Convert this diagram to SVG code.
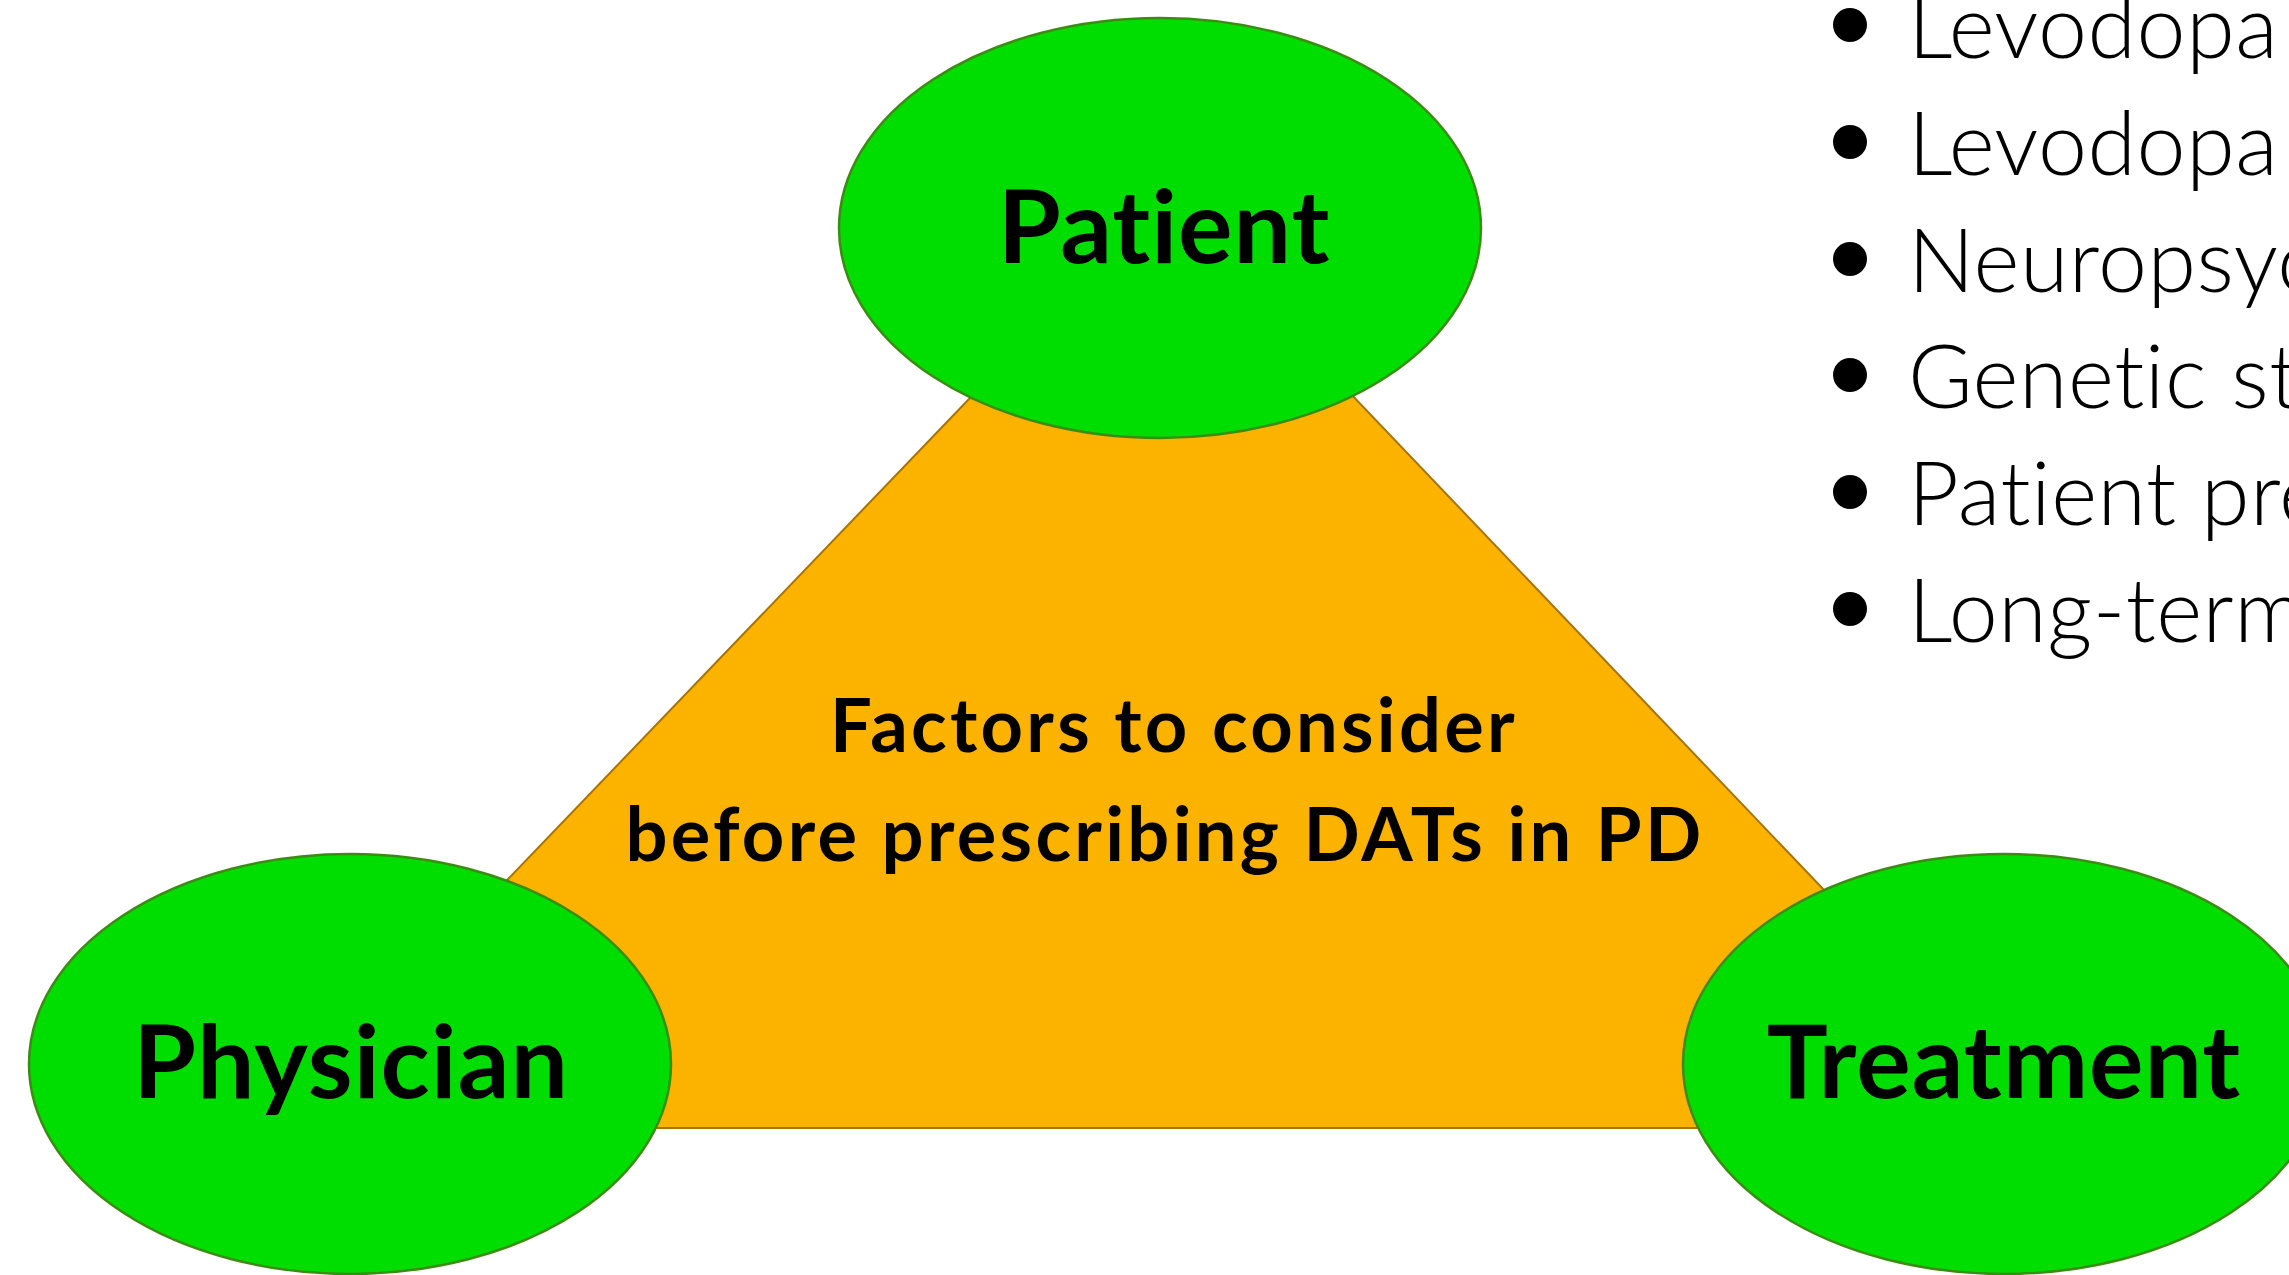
<svg xmlns="http://www.w3.org/2000/svg" width="2289" height="1275" viewBox="0 0 2289 1275">
  <style>
    .bubble { fill: #00DD00; stroke: #3C8C14; stroke-width: 2.5; }
    .core { fill: #FBB300; stroke: #A87400; stroke-width: 2; }
    .label { font-family: Lato, "Noto Sans", "Liberation Sans", sans-serif; font-weight: 700; fill: #000; text-anchor: middle; font-variant-ligatures: none; font-feature-settings: "liga" 0; }
    .big { font-size: 102px; letter-spacing: 1px; }
    .mid { font-size: 74px; letter-spacing: 3.3px; }
    .item { font-family: Lato, "Open Sans", "Liberation Sans", sans-serif; font-weight: 300; font-size: 88px; fill: #000; font-variant-ligatures: none; font-feature-settings: "liga" 0; letter-spacing: 0.5px; }
    .dot { fill: #000; }
  </style>
  <rect width="2289" height="1275" fill="#FFFFFF"/>

  <!-- central triangle with its caption -->
  <g id="factors">
    <polygon class="core" points="1163,197 2051,1128 269,1128"/>
    <text class="label mid" x="1174" y="752">Factors to consider</text>
    <text class="label mid" x="1165" y="861">before prescribing DATs in PD</text>
  </g>

  <g id="connectors"></g>

  <!-- corner bubbles -->
  <g id="patient">
    <ellipse class="bubble" cx="1160" cy="228" rx="321" ry="210"/>
    <text class="label big" x="1164" y="263">Patient</text>
  </g>
  <g id="physician">
    <ellipse class="bubble" cx="350" cy="1064" rx="321" ry="210"/>
    <text class="label big" x="351" y="1098">Physician</text>
  </g>
  <g id="treatment">
    <ellipse class="bubble" cx="2004" cy="1064" rx="321" ry="210"/>
    <text class="label big" x="2004" y="1098">Treatment</text>
  </g>

  <!-- bullet list, running off the right edge -->
  <g id="list">
    <circle class="dot" cx="1850" cy="25" r="17"/>
    <text class="item" x="1908" y="58">Levodopa</text>
    <circle class="dot" cx="1850" cy="142" r="17"/>
    <text class="item" x="1908" y="175">Levodopa</text>
    <circle class="dot" cx="1850" cy="259" r="17"/>
    <text class="item" x="1908" y="292">Neuropsyc</text>
    <circle class="dot" cx="1850" cy="375" r="17"/>
    <text class="item" x="1908" y="408">Genetic st</text>
    <circle class="dot" cx="1850" cy="492" r="17"/>
    <text class="item" x="1908" y="525">Patient pre</text>
    <circle class="dot" cx="1850" cy="609" r="17"/>
    <text class="item" x="1908" y="642">Long-term</text>
  </g>
</svg>
